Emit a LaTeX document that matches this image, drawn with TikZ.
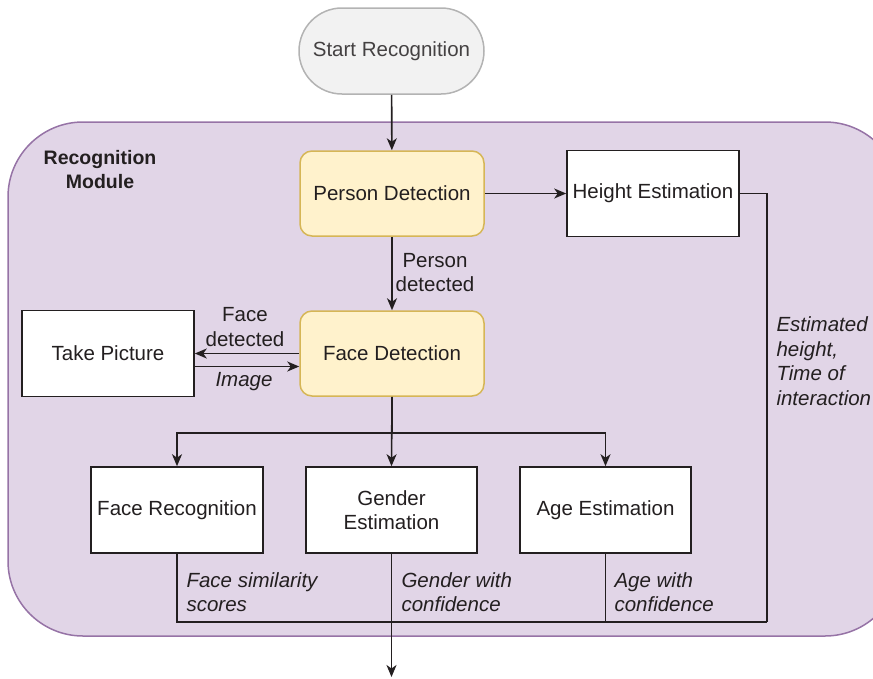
\documentclass[tikz,border=0pt]{standalone}
\usepackage{fontspec}
\setmainfont{Liberation Sans}
\usetikzlibrary{arrows.meta,calc}
\definecolor{modfill}{HTML}{E1D5E7}
\definecolor{moddraw}{HTML}{9673A6}
\definecolor{yfill}{HTML}{FFF2CC}
\definecolor{ydraw}{HTML}{D6B656}
\definecolor{gfill}{HTML}{F2F2F2}
\definecolor{gdraw}{HTML}{B3B3B3}
\definecolor{ink}{HTML}{231F20}
\begin{document}
\begin{tikzpicture}[x=1pt,y=-1pt,
  every node/.style={font=\fontsize{20.5}{24.5}\selectfont, text=ink},
  box/.style={draw=ink, fill=white, line width=1.6pt, inner sep=2pt, align=center, minimum width=172pt, minimum height=86pt},
  ybox/.style={draw=ydraw, fill=yfill, line width=1.5pt, rounded corners=12pt, align=center, minimum width=184pt, minimum height=85pt},
  conn/.style={draw=ink, line width=1.6pt},
  arr/.style={conn, -{Stealth[length=12pt,width=10pt,inset=3.5pt]}},
  lbl/.style={align=left, anchor=west, font=\fontsize{20.5}{24.5}\selectfont\itshape},
  clbl/.style={align=center}
]
\useasboundingbox (0,0) rectangle (873,678);
% module background
\draw[fill=modfill, draw=moddraw, line width=1.5pt, rounded corners=75pt] (8,122) rectangle (900,636);
\node[font=\fontsize{19.5}{24.5}\selectfont\bfseries, align=center] (modlbl) at (100,169.5) {Recognition\\Module};

% nodes
\node[draw=gdraw, fill=gfill, line width=1.5pt, rounded corners=43pt, minimum width=185pt, minimum height=86pt, text=ink!85] (start) at (391.5,51) {Start Recognition};
\node[ybox] (person) at (392,193.5) {Person Detection};
\node[box] (height) at (653,193.5) {Height Estimation};
\node[ybox] (face) at (392,353.5) {Face Detection};
\node[box] (take) at (108,353.5) {Take Picture};
\node[box] (facerec) at (177,510) {Face Recognition};
\node[box, minimum width=171pt] (gender) at (391.5,510) {Gender\\Estimation};
\node[box, minimum width=171pt] (age) at (605.5,510) {Age Estimation};

\coordinate (hjoin) at (767,622);
\coordinate (out) at (391.5,677);

% connectors
\draw[arr] (start) -- (person);
\draw[arr] (person) -- (height);
\draw[arr] (person) -- (face);
\draw[arr] (face.west) -- (take.east);
\draw[arr] ([yshift=-13pt]take.east) -- ([yshift=-13pt]face.west);
\draw[arr] (face.south) -- (gender.north);
\draw[arr] (face.south) -- ++(0,36) -| (facerec.north);
\draw[arr] (face.south) -- ++(0,36) -| (age.north);
\draw[conn] (facerec.south) |- (hjoin);
\draw[conn] (age.south) -- (age.south |- hjoin);
\draw[conn] (height.east) -| (hjoin);
\draw[arr] (gender.south) -- (out);

% labels
\node[clbl] (lpd) at (435,272.5) {Person\\detected};
\node[clbl] (lfd) at (245,327) {Face\\detected};
\node[clbl, font=\fontsize{20.5}{24.5}\selectfont\itshape] (limg) at (244,382) {Image};
\node[lbl] (leh) at (773,361) {Estimated\\height,\\Time of\\interaction};
\node[lbl] (lfs) at (183,592) {Face similarity\\scores};
\node[lbl] (lgc) at (398,592) {Gender with\\confidence};
\node[lbl] (lac) at (611,592) {Age with\\confidence};
\end{tikzpicture}
\end{document}
